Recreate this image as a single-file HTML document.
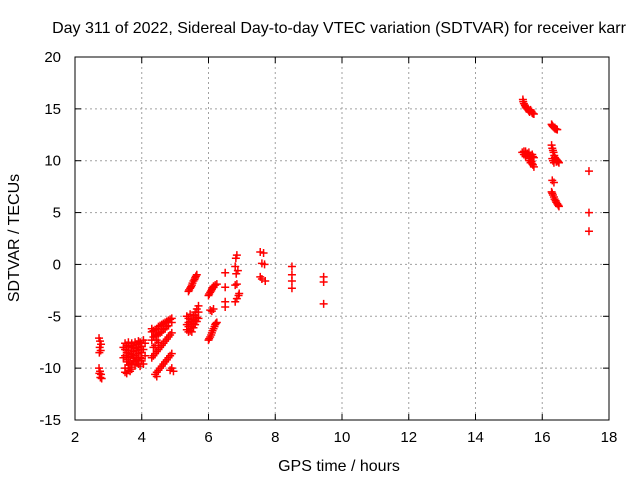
<!DOCTYPE html>
<html><head><meta charset="utf-8"><style>
html,body{margin:0;padding:0;background:#fff;}
svg{display:block;font-family:"Liberation Sans",sans-serif;}
</style></head><body>
<svg id="chart" width="640" height="480" viewBox="0 0 640 480" xmlns="http://www.w3.org/2000/svg">
<text x="339" y="33" font-size="16" text-anchor="middle">Day 311 of 2022, Sidereal Day-to-day VTEC variation (SDTVAR) for receiver karr</text>
<text x="339" y="471" font-size="16" text-anchor="middle">GPS time / hours</text>
<text x="19" y="238" font-size="16" text-anchor="middle" transform="rotate(-90 19 238)">SDTVAR / TECUs</text>
<g id="grid"></g>
<g id="ticks"></g>
<g id="points"></g>
<rect x="75" y="57" width="534" height="363" fill="none" stroke="#000" stroke-width="1"/>
</svg>
<script>
const xTicks=[2,4,6,8,10,12,14,16,18];
const yTicks=[-15,-10,-5,0,5,10,15,20];
const xs=[2.72,2.75,2.78,2.74,2.77,2.73,2.72,2.75,2.78,2.76,2.8,2.73,
3.5,3.6,3.7,3.8,3.9,3.95,3.5,3.6,3.7,3.8,3.9,4.0,3.5,3.6,3.7,3.8,3.9,4.0,3.55,3.65,3.75,3.85,3.95,3.5,3.6,3.7,3.8,3.9,4.0,3.55,3.65,3.45,3.45,
3.55,3.65,3.75,3.85,3.95,4.05,4.1,3.55,3.65,3.75,3.85,3.95,4.05,3.6,3.7,3.8,3.9,4.0,4.1,3.5,3.6,3.7,3.55,3.65,3.75,3.85,4.05,3.95,
4.3,4.4,4.5,4.6,4.7,4.8,4.9,4.35,4.45,4.55,4.3,4.65,4.75,
4.35,4.45,4.55,4.65,4.75,4.85,4.4,4.5,4.6,4.7,4.8,4.9,4.3,
4.3,4.4,4.5,4.6,4.7,4.8,4.9,4.35,4.5,
4.35,4.45,4.55,4.65,4.75,4.85,4.4,4.45,
4.4,4.5,4.6,4.7,4.8,4.9,4.45,
4.45,4.55,4.65,4.75,4.85,
4.85,4.9,4.95,
5.4,5.45,5.5,5.55,5.6,5.65,5.35,5.4,5.45,5.4,5.5,5.55,5.6,5.65,5.7,5.5,5.55,5.45,5.6,5.65,5.5,5.35,
5.42,5.48,5.52,5.58,5.62,5.4,5.45,5.5,5.55,5.6,5.65,5.7,5.7,5.6,5.55,5.45,5.4,5.35,
6.0,6.05,6.1,6.15,6.25,6.05,6.1,6.15,6.0,6.05,6.1,6.15,6.2,6.25,
6.02,6.08,6.12,6.2,6.02,6.08,6.12,6.18,6.22,
6.5,6.5,6.5,6.5,
6.85,6.82,6.8,6.88,6.83,6.8,6.85,6.8,6.85,6.9,6.92,
7.55,7.65,7.6,7.68,7.55,7.6,7.7,
8.5,8.5,8.5,8.5,
9.45,9.45,9.45,
15.42,15.45,15.5,15.55,15.6,15.65,15.7,15.75,15.4,15.45,15.5,15.55,15.6,15.65,15.7,15.75,15.6,15.7,15.75,15.65,
15.43,15.48,15.52,15.58,15.62,15.68,15.72,15.45,15.5,15.55,15.6,15.62,15.68,15.72,15.65,15.72,15.5,
16.28,16.32,16.38,16.45,16.28,16.32,16.36,16.4,16.45,16.5,16.3,16.35,16.42,16.3,16.35,16.28,16.32,16.37,16.42,16.48,
16.3,16.35,16.42,16.3,16.34,16.38,16.43,16.48,16.32,16.3,16.35,16.4,16.45,16.5,
17.4,17.4,17.4];
const ys=[-7.1,-7.4,-7.7,-8.0,-8.3,-8.5,-10.0,-10.3,-10.6,-10.9,-11.0,-10.5,
-7.6,-7.5,-7.6,-7.5,-7.4,-7.6,-8.2,-8.3,-8.0,-8.1,-8.0,-7.9,-8.8,-9.0,-8.7,-8.8,-8.6,-8.5,-9.4,-9.5,-9.3,-9.2,-9.0,-10.0,-10.2,-9.9,-9.7,-9.6,-9.3,-10.5,-10.3,-9.0,-8.0,
-7.8,-7.9,-7.8,-7.7,-7.5,-7.3,-7.6,-8.5,-8.6,-8.4,-8.3,-8.2,-8.2,-9.7,-9.6,-9.4,-9.3,-9.1,-8.8,-10.4,-10.0,-10.1,-9.2,-8.9,-9.1,-9.0,-9.6,-9.8,
-6.5,-6.3,-6.0,-5.8,-5.6,-5.4,-5.2,-7.0,-6.8,-6.6,-7.3,-6.3,-6.0,
-6.4,-6.2,-5.9,-5.7,-5.5,-5.3,-6.9,-6.7,-6.5,-6.2,-5.9,-5.6,-6.2,
-9.0,-8.6,-8.2,-7.8,-7.4,-7.0,-6.6,-8.0,-7.5,
-8.8,-8.4,-8.0,-7.6,-7.2,-6.8,-7.8,-7.3,
-10.6,-10.2,-9.8,-9.4,-9.0,-8.6,-10.8,
-10.4,-10.0,-9.6,-9.2,-8.8,
-10.2,-10.0,-10.3,
-2.6,-2.3,-2.0,-1.6,-1.3,-1.0,-5.0,-5.6,-6.2,-6.5,-5.3,-4.9,-4.6,-4.3,-4.0,-6.0,-5.7,-4.8,-5.4,-5.1,-6.5,-5.8,
-2.45,-2.15,-1.8,-1.45,-1.15,-5.2,-5.5,-5.8,-6.1,-5.8,-5.5,-5.2,-4.6,-4.9,-5.3,-6.4,-6.0,-6.3,
-3.0,-2.7,-2.4,-2.1,-1.9,-4.4,-4.5,-4.3,-7.3,-7.0,-6.6,-6.2,-5.8,-5.6,
-2.85,-2.55,-2.25,-2.0,-7.15,-6.8,-6.4,-6.0,-5.7,
-0.8,-2.2,-3.6,-4.1,
0.9,0.6,-0.2,-0.6,-0.9,-2.0,-1.9,-3.6,-3.3,-3.0,-2.8,
1.2,1.1,0.1,0.0,-1.2,-1.4,-1.6,
-0.2,-1.0,-1.6,-2.3,
-1.2,-1.7,-3.8,
15.9,15.5,15.2,15.0,14.8,14.9,14.6,14.5,10.8,10.6,10.9,10.5,10.2,10.0,9.7,9.4,10.8,10.6,10.3,9.8,
15.7,15.35,15.1,14.9,14.7,14.75,14.55,10.9,10.4,10.7,10.5,10.0,9.9,9.6,10.5,10.4,10.6,
13.5,13.3,13.1,13.0,11.5,11.0,10.5,10.2,10.0,9.8,10.2,9.8,9.9,8.1,7.9,7.0,6.7,6.3,6.0,5.7,
13.4,13.2,13.05,11.2,10.8,10.3,10.1,9.9,10.0,6.85,6.5,6.15,5.85,5.6,
9.0,5.0,3.2];
const L=75,R=609,T=57,B=420;
const sx=v=>L+(v-2)/(18-2)*(R-L);
const sy=v=>B-(v+15)/(35)*(B-T);
const NS="http://www.w3.org/2000/svg";
function mk(tag,attrs,parent){const e=document.createElementNS(NS,tag);for(const k in attrs)e.setAttribute(k,attrs[k]);parent.appendChild(e);return e;}
const grid=document.getElementById('grid'),ticks=document.getElementById('ticks'),pts=document.getElementById('points');
xTicks.forEach(t=>{const x=sx(t);
 if(t>2&&t<18){const g=mk('line',{x1:x,x2:x,y1:T,y2:B,stroke:'#a0a0a0','stroke-dasharray':'2,3'},grid);
 
 }
 const a=mk('line',{x1:x,x2:x,y1:B,y2:B-6,stroke:'#000'},ticks);
 const b=mk('line',{x1:x,x2:x,y1:T,y2:T+6,stroke:'#000'},ticks);
 const l=mk('text',{x:x,y:B+22,'font-size':'15','text-anchor':'middle'},ticks);l.textContent=t;
 
 
});
yTicks.forEach(t=>{const y=sy(t);
 if(t>-15&&t<20){const g=mk('line',{x1:L,x2:R,y1:y,y2:y,stroke:'#a0a0a0','stroke-dasharray':'2,3'},grid);
 
 }
 const a=mk('line',{x1:L,x2:L+6,y1:y,y2:y,stroke:'#000'},ticks);
 const b=mk('line',{x1:R,x2:R-6,y1:y,y2:y,stroke:'#000'},ticks);
 const l=mk('text',{x:L-14,y:y+5,'font-size':'15','text-anchor':'end'},ticks);l.textContent=t;
 
 
});
xs.forEach((v,i)=>{const x=sx(v),y=sy(ys[i]);
 const p=mk('path',{d:`M${x-4},${y}H${x+4}M${x},${y-4}V${y+4}`,stroke:'#f00','stroke-width':'1.5',fill:'none'},pts);
 
 
});
</script>
</body></html>
